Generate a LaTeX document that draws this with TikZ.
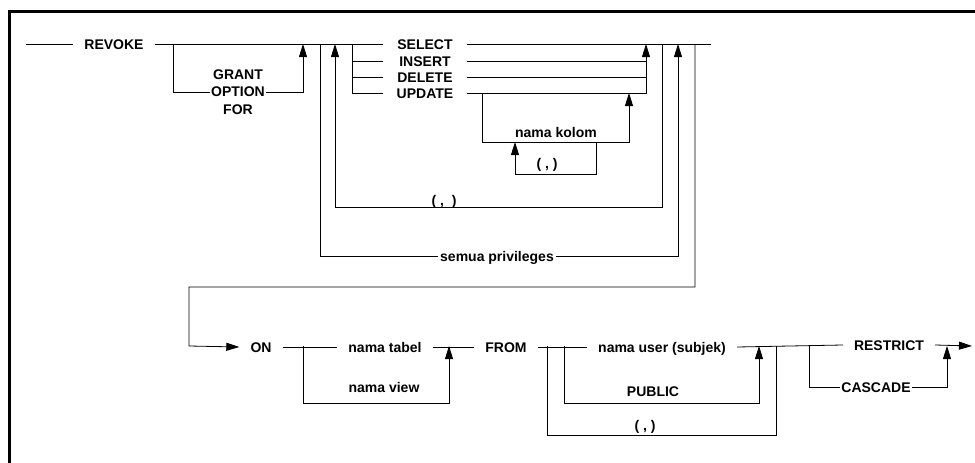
\documentclass[tikz,border=0pt]{standalone}
\usepackage{fontspec}
\setmainfont{Liberation Sans}
\usepackage{tikz}
\usetikzlibrary{arrows.meta}

\begin{document}
\begin{tikzpicture}[
    x=1pt, y=-1pt,
    font=\fontsize{14}{17.5}\selectfont\bfseries,
    kw/.style={inner xsep=11pt, inner ysep=0pt, text height=10pt, text depth=0pt},
    opt/.style={kw, inner xsep=0pt, minimum width=83pt},
    tight/.style={kw, inner xsep=1.5pt},
    note/.style={kw, inner xsep=0pt},
    ln/.style={draw=black, line width=0.8pt},
    arr/.style={ln, -{Triangle[length=13pt, width=8pt]}}
]
\useasboundingbox (0,0) rectangle (975,463);

% Frame
\draw[line width=3.5pt] (9.5,480) -- (9.5,11.5) -- (990,11.5);

% Nodes
\node[kw] (revoke) at (114,44) {REVOKE};
\node[align=center, inner sep=1pt] (grant) at (238,92) {GRANT\\OPTION\\FOR};
\node[opt] (select) at (425,44) {SELECT};
\node[opt] (insert) at (425,61) {INSERT};
\node[opt] (delete) at (425,77) {DELETE};
\node[opt] (update) at (425,93) {UPDATE};
\node[note] (kolom) at (556,132) {nama kolom};
\node[note] (komaK) at (547,163) {( , )};
\node[note] (komaP) at (444,200) {( ,\ \ )};
\node[tight] (semua) at (497,256) {semua privileges};

\node[kw] (on) at (261,347) {ON};
\node[kw] (tabel) at (385,347) {nama tabel};
\node[note] (view) at (384,387) {nama view};
\node[kw] (from) at (506,347) {FROM};
\node[kw] (user) at (662,347) {nama user (subjek)};
\node[note] (public) at (653,391) {PUBLIC};
\node[note] (komaU) at (645,425) {( , )};
\node[kw] (restrict) at (889,345) {RESTRICT};
\node[tight] (cascade) at (876,387) {CASCADE};

% Junctions
\coordinate (start) at (26,44);
\coordinate (grA) at (173,44);
\coordinate (grB) at (303,44);
\coordinate (smA) at (320,44);
\coordinate (lpA) at (335,44);
\coordinate (opA) at (352,44);
\coordinate (opB) at (646,44);
\coordinate (lpB) at (662,44);
\coordinate (smB) at (678,44);
\coordinate (ret) at (695,44);
\coordinate (topend) at (711,44);
\coordinate (kA) at (482,93);
\coordinate (kB) at (629,93);
\coordinate (tbA) at (303,346);
\coordinate (tbB) at (449,346);
\coordinate (usA) at (547,346);
\coordinate (puA) at (564,346);
\coordinate (puB) at (759,346);
\coordinate (usB) at (776,346);
\coordinate (caA) at (809,346);
\coordinate (caB) at (947,346);
\coordinate (fin) at (972,346);

% Top row
\draw[ln] (start) -- (revoke.west);
\draw[ln] (revoke.east) -- (select.west);
\draw[ln] (select.east) -- (topend);
\draw[ln] (grA) |- (grant.west);
\draw[arr] (grant.east) -| (grB);
\draw[ln] (smA) |- (semua.west);
\draw[arr] (semua.east) -| (smB);
\draw[arr] (lpB) -- (662,207) -- (335,207) -- (lpA);

% Privileges
\draw[ln] (opA) |- (update.west);
\draw[ln] (opA |- insert.west) -- (insert.west);
\draw[ln] (opA |- delete.west) -- (delete.west);
\draw[ln] (insert.east) -- (insert.east -| opB);
\draw[ln] (delete.east) -- (delete.east -| opB);
\draw[arr] (update.east) -| (opB);
\draw[arr] (kA) -- (482,142) -- (629,142) -- (kB);
\draw[arr] (596,142) -- (596,174) -- (515,174) -- (515,142);

% Return to second row
\draw[arr] (ret) -- (695,287) -- (189,287) -- (189,346) -- (on.west);

% Bottom row
\draw[ln] (on.east) -- (tabel.west);
\draw[ln] (tabel.east) -- (from.west);
\draw[ln] (from.east) -- (user.west);
\draw[ln] (user.east) -- (restrict.west);
\draw[arr] (restrict.east) -- (fin);
\draw[arr] (tbA) -- (303,403) -- (449,403) -- (tbB);
\draw[arr] (puA) -- (564,403) -- (759,403) -- (puB);
\draw[ln] (usB) -- (776,435) -- (547,435) -- (usA);
\draw[ln] (caA) |- (cascade.west);
\draw[arr] (cascade.east) -| (caB);

\end{tikzpicture}
\end{document}
